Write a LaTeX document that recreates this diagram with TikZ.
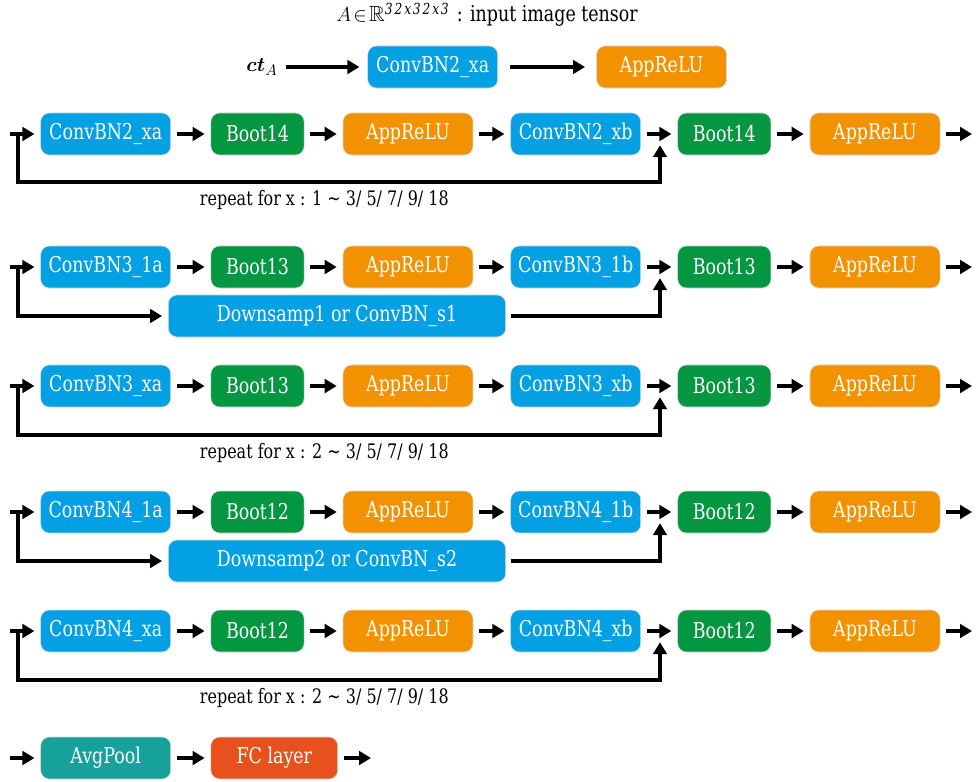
\documentclass[tikz,border=0pt]{standalone}
\usepackage{amsmath,amssymb}
\usepackage{fontspec}
\setmainfont{DejaVu Serif}[FakeStretch=0.8]
\usetikzlibrary{arrows.meta}

\definecolor{convblue}{RGB}{3,160,227}
\definecolor{bootgreen}{RGB}{4,150,64}
\definecolor{reluorange}{RGB}{242,146,0}
\definecolor{poolteal}{RGB}{22,162,154}
\definecolor{fcred}{RGB}{232,80,30}

\tikzset{
  txt/.style={font=\fontsize{15.5}{18}\selectfont},
  note/.style={font=\fontsize{14.2}{17}\selectfont, anchor=west},
  blk/.style={txt, rounded corners=0.22cm, minimum height=1.05cm, inner sep=0pt,
    text=white, draw=black!15, line width=0.4pt},
  conv/.style={blk, fill=convblue, minimum width=3.25cm},
  boot/.style={blk, fill=bootgreen, minimum width=2.33cm},
  relu/.style={blk, fill=reluorange, minimum width=3.25cm},
  arr/.style={-{Triangle[length=0.3cm,width=0.34cm]}, line width=0.1cm, shorten >=0.15cm},
  link/.style={arr, shorten <=0.15cm},
}

\begin{document}
\begin{tikzpicture}[x=0.025cm,y=-0.025cm]
\useasboundingbox (0,0) rectangle (977,781);

% title and input
\node[txt] (title) at (487,15) {$A\!\in\!\mathbb{R}^{\mathit{32x32x3}}$ : input image tensor};
\node[txt] (ct) at (262,67) {$\boldsymbol{ct}_{A}$};
\node[conv] (c0) at (432.7,67) {ConvBN2\_xa};
\node[relu] (r0) at (661.5,67) {AppReLU};
\draw[arr, shorten <=0.08cm, shorten >=0.2cm] (ct) -- (c0);
\draw[arr, shorten <=0.3cm, shorten >=0.28cm] (c0) -- (r0);

% stage 2, repeated block
\node[conv] (c1a) at (105.7,134) {ConvBN2\_xa};
\node[boot] (b1a) at (257.5,134) {Boot14};
\node[relu] (r1a) at (408,134) {AppReLU};
\node[conv] (c1b) at (575.7,134) {ConvBN2\_xb};
\node[boot] (b1b) at (724.3,134) {Boot14};
\node[relu] (r1b) at (875,134) {AppReLU};
\coordinate (i1) at (10,134);
\coordinate (s1) at (18,134);
\coordinate (j1) at (660,134);
\coordinate (o1) at (972,134);
\draw[arr] (i1) -- (c1a);
\draw[link] (c1a) -- (b1a);
\draw[link] (b1a) -- (r1a);
\draw[link] (r1a) -- (c1b);
\draw[link] (c1b) -- (b1b);
\draw[link] (b1b) -- (r1b);
\draw[link, shorten >=0pt] (r1b) -- (o1);
\draw[arr, shorten >=0.28cm] (s1) -- (18,182) -| (j1);
\node[note] (rep1) at (195,200) {repeat for x : 1 \textasciitilde\ 3/ 5/ 7/ 9/ 18};

% stage 3, first block with downsampling
\node[conv] (c2a) at (105.7,267) {ConvBN3\_1a};
\node[boot] (b2a) at (257.5,267) {Boot13};
\node[relu] (r2a) at (408,267) {AppReLU};
\node[conv] (c2b) at (575.7,267) {ConvBN3\_1b};
\node[boot] (b2b) at (724.3,267) {Boot13};
\node[relu] (r2b) at (875,267) {AppReLU};
\node[conv, minimum width=8.43cm] (d1) at (337,316) {Downsamp1 or ConvBN\_s1};
\coordinate (i2) at (10,267);
\coordinate (s2) at (18,267);
\coordinate (j2) at (660,267);
\coordinate (o2) at (972,267);
\draw[arr] (i2) -- (c2a);
\draw[link] (c2a) -- (b2a);
\draw[link] (b2a) -- (r2a);
\draw[link] (r2a) -- (c2b);
\draw[link] (c2b) -- (b2b);
\draw[link] (b2b) -- (r2b);
\draw[link, shorten >=0pt] (r2b) -- (o2);
\draw[arr] (s2) |- (d1);
\draw[arr, shorten <=0.12cm, shorten >=0.28cm] (d1) -| (j2);

% stage 3, repeated block
\node[conv] (c3a) at (105.7,386) {ConvBN3\_xa};
\node[boot] (b3a) at (257.5,386) {Boot13};
\node[relu] (r3a) at (408,386) {AppReLU};
\node[conv] (c3b) at (575.7,386) {ConvBN3\_xb};
\node[boot] (b3b) at (724.3,386) {Boot13};
\node[relu] (r3b) at (875,386) {AppReLU};
\coordinate (i3) at (10,386);
\coordinate (s3) at (18,386);
\coordinate (j3) at (660,386);
\coordinate (o3) at (972,386);
\draw[arr] (i3) -- (c3a);
\draw[link] (c3a) -- (b3a);
\draw[link] (b3a) -- (r3a);
\draw[link] (r3a) -- (c3b);
\draw[link] (c3b) -- (b3b);
\draw[link] (b3b) -- (r3b);
\draw[link, shorten >=0pt] (r3b) -- (o3);
\draw[arr, shorten >=0.28cm] (s3) -- (18,435) -| (j3);
\node[note] (rep3) at (195,453) {repeat for x : 2 \textasciitilde\ 3/ 5/ 7/ 9/ 18};

% stage 4, first block with downsampling
\node[conv] (c4a) at (105.7,512) {ConvBN4\_1a};
\node[boot] (b4a) at (257.5,512) {Boot12};
\node[relu] (r4a) at (408,512) {AppReLU};
\node[conv] (c4b) at (575.7,512) {ConvBN4\_1b};
\node[boot] (b4b) at (724.3,512) {Boot12};
\node[relu] (r4b) at (875,512) {AppReLU};
\node[conv, minimum width=8.43cm] (d2) at (337,561) {Downsamp2 or ConvBN\_s2};
\coordinate (i4) at (10,512);
\coordinate (s4) at (18,512);
\coordinate (j4) at (660,512);
\coordinate (o4) at (972,512);
\draw[arr] (i4) -- (c4a);
\draw[link] (c4a) -- (b4a);
\draw[link] (b4a) -- (r4a);
\draw[link] (r4a) -- (c4b);
\draw[link] (c4b) -- (b4b);
\draw[link] (b4b) -- (r4b);
\draw[link, shorten >=0pt] (r4b) -- (o4);
\draw[arr] (s4) |- (d2);
\draw[arr, shorten <=0.12cm, shorten >=0.28cm] (d2) -| (j4);

% stage 4, repeated block
\node[conv] (c5a) at (105.7,631) {ConvBN4\_xa};
\node[boot] (b5a) at (257.5,631) {Boot12};
\node[relu] (r5a) at (408,631) {AppReLU};
\node[conv] (c5b) at (575.7,631) {ConvBN4\_xb};
\node[boot] (b5b) at (724.3,631) {Boot12};
\node[relu] (r5b) at (875,631) {AppReLU};
\coordinate (i5) at (10,631);
\coordinate (s5) at (18,631);
\coordinate (j5) at (660,631);
\coordinate (o5) at (972,631);
\draw[arr] (i5) -- (c5a);
\draw[link] (c5a) -- (b5a);
\draw[link] (b5a) -- (r5a);
\draw[link] (r5a) -- (c5b);
\draw[link] (c5b) -- (b5b);
\draw[link] (b5b) -- (r5b);
\draw[link, shorten >=0pt] (r5b) -- (o5);
\draw[arr, shorten >=0.28cm] (s5) -- (18,680) -| (j5);
\node[note] (rep5) at (195,698) {repeat for x : 2 \textasciitilde\ 3/ 5/ 7/ 9/ 18};

% output
\node[blk, fill=poolteal, minimum width=3.25cm] (pool) at (105.7,758) {AvgPool};
\node[blk, fill=fcred, minimum width=3.17cm] (fc) at (274.3,758) {FC layer};
\coordinate (i6) at (10,758);
\coordinate (o6) at (371,758);
\draw[arr] (i6) -- (pool);
\draw[link] (pool) -- (fc);
\draw[link, shorten >=0pt] (fc) -- (o6);
\end{tikzpicture}
\end{document}
